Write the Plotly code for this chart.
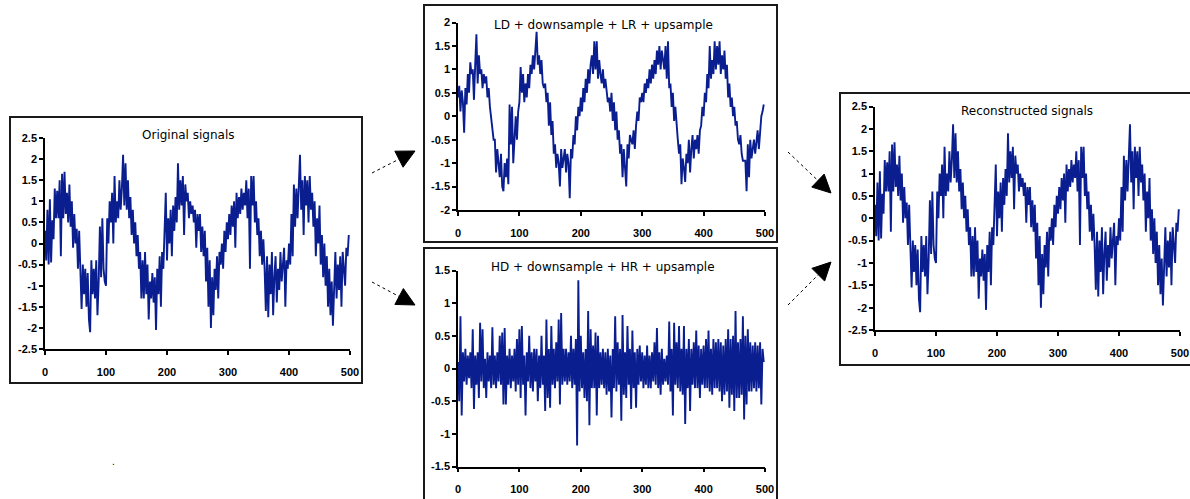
import plotly.graph_objects as go

W, H = 1190, 499

# ---------------- data ----------------
sample_x = list(range(0, 500, 2))

original_vals = [
    0.3, -0.4, 0.8, -0.5, 1.05, -0.45, 0.55, 0.1, 1.3, 0.6,
    1.25, 0.6, 1.5, -0.3, 1.65, 0.6, 1.7, 0.7, 1.2, 0.5,
    1.4, 0.4, 1.0, -0.1, 0.7, 0.0, 0.35, -0.6, 0.3, -0.95,
    -1.55, -0.5, -1.2, -0.6, -1.5, -0.7, -1.8, -2.1, -0.4, -1.2,
    -0.6, -1.3, -0.4, -1.7, -0.9, 0.4, -0.8, 0.6, -0.6, -0.9,
    -1.0, 0.6, 0.0, 1.0, 0.5, 1.2, 0.0, 1.6, 0.5, 1.0,
    0.6, 1.5, 0.8, 1.3, 2.1, 0.9, 1.9, 0.8, 1.5, 0.6,
    1.1, 0.2, 0.8, 0.0, 0.5, -0.3, 0.2, -0.6, -0.2, -1.3,
    -0.4, -1.3, -0.2, -1.2, -0.5, -1.8, -0.9, -1.3, -0.7, -1.4,
    -0.8, -2.05, -0.6, -1.2, -0.3, -1.5, -0.2, -0.6, 0.2, 1.2,
    -0.4, 0.6, 0.0, 0.8, -0.3, 0.9, 0.3, 1.1, 0.5, 1.9,
    0.8, 1.5, 0.9, 1.6, 0.2, 1.4, 1.0, 1.2, 0.6, 1.0,
    0.7, 0.9, 0.5, 0.8, -0.1, 0.7, 0.3, 0.7, -0.2, 0.4,
    -0.3, 0.3, -0.9, -0.1, -1.5, -0.4, -2.0, -0.8, -1.7, -0.6,
    -1.1, -0.3, -1.3, -0.2, -0.5, 0.0, -0.6, 0.3, -0.2, 0.5,
    0.1, 0.7, 0.2, 0.9, 0.4, 1.0, -0.1, 1.2, 0.6, 1.1,
    0.7, 1.3, 0.8, 1.2, 0.9, 1.5, 0.6, 1.3, -0.6, 1.6,
    0.9, 1.6, 0.5, 1.0, 0.2, 0.6, -0.3, 0.3, -0.5, 0.1,
    -0.6, -1.6, -0.3, -1.75, -0.5, -1.2, -0.2, -1.7, -0.8, -0.3,
    -1.4, -0.6, -1.1, -0.2, -0.9, -0.5, -0.1, -1.5, -0.4, -0.6,
    0.0, -0.5, 0.7, -0.3, 1.4, 0.4, 1.3, 0.6, 1.5, 2.1,
    0.8, 1.5, 0.2, 1.6, 0.9, 1.5, 0.5, 1.6, 0.8, 1.2,
    0.4, 1.0, -0.3, 0.6, 0.0, 0.9, -0.5, 0.2, -0.8, 0.0,
    -1.0, -0.3, -1.5, -0.6, -1.7, -0.9, -1.95, -1.0, -0.2, -1.3,
    -0.5, -1.1, -0.3, -1.5, -0.2, -0.6, -1.0, -0.1, -0.3, 0.2,
]

ld_vals = [
    0.4, 0.65, 0.1, 0.55, 0.3, -0.35, 0.6, 0.25, 0.9, 0.5,
    1.15, 0.9, 1.0, 0.35, 1.1, 1.75, 0.7, 1.3, 0.9, 1.0,
    0.6, 0.9, 0.7, 0.85, 0.4, 0.6, 0.2, 0.0, -0.2, -0.5,
    -0.5, -1.2, -0.7, -1.0, -1.3, -0.8, -1.5, -1.6, -1.0, -1.3,
    -0.9, -1.45, 0.25, -0.6, 0.2, -1.0, -0.3, 0.0, -0.5, 0.1,
    0.3, 1.05, 0.5, 0.9, 0.3, 0.7, 0.4, 0.9, 0.6, 1.1,
    0.9, 1.3, 1.0, 1.4, 1.8, 1.1, 1.3, 0.9, 1.2, 0.7,
    0.6, 0.7, 0.3, 0.5, -0.2, 0.3, -0.4, -0.1, -0.8, -0.6,
    -1.1, -0.8, -1.0, -1.5, -0.7, -1.1, -0.9, -0.7, -1.2, -0.8,
    -1.0, -1.75, -0.7, -0.9, -0.4, -0.6, 0.0, -0.3, 0.2, 0.0,
    0.4, 0.1, 0.6, 0.3, 0.8, 0.5, 1.0, 0.7, 1.1, 1.3,
    0.9, 1.6, 1.0, 1.6, 0.8, 1.2, 0.9, 0.7, 1.0, 0.6,
    0.8, 0.5, 0.3, 0.4, 0.1, 0.5, -0.1, 0.3, -0.3, 0.1,
    -0.5, -0.3, -0.8, -0.6, -1.3, -0.7, -1.1, -1.5, -0.6, -0.9,
    -0.4, -0.5, -0.6, -0.3, -0.7, -0.2, 0.1, -0.1, 0.4, 0.3,
    0.5, 0.3, 0.7, 0.5, 0.8, 0.6, 1.0, 0.7, 1.1, 0.8,
    1.2, 0.9, 1.4, 1.1, 1.5, 1.0, 1.4, 1.2, 1.0, 1.5,
    0.8, 1.6, 0.6, 0.7, 0.2, 0.5, -0.1, 0.2, -0.3, -0.5,
    -0.8, -0.6, -1.45, -0.9, -1.1, -1.4, -0.8, -1.0, -0.5, -1.2,
    -0.7, -0.4, -0.9, -0.5, -0.7, -0.4, -0.8, -0.3, -0.2, 0.2,
    0.0, 0.5, 0.3, 0.9, 0.6, 1.5, 0.8, 1.2, 0.9, 1.6,
    1.0, 1.5, 1.1, 1.6, 0.9, 1.3, 1.0, 1.4, 0.8, 1.1,
    0.4, 0.7, 0.2, 0.4, 0.0, 0.2, -0.2, -0.1, -0.5, -0.6,
    -0.4, -0.8, -0.95, -0.95, -0.95, -1.6, -0.6, -1.3, -0.5, -0.9,
    -0.7, -0.5, -0.8, -0.6, -0.3, -0.7, -0.3, 0.0, 0.1, 0.25,
]

hd_vals = [
    0.1, -0.5, 0.8, -0.72, 0.25, -0.2, 0.3, -0.25, 0.2, -0.15,
    0.25, -0.3, 0.6, -0.62, 0.2, -0.25, 0.25, -0.45, 0.7, -0.2,
    0.6, -0.3, 0.15, -0.45, 0.25, -0.2, 0.2, -0.3, 0.63, -0.25,
    0.2, -0.3, 0.25, -0.2, 0.5, -0.25, 0.55, -0.55, 0.62, -0.55,
    0.2, -0.25, 0.3, -0.3, 0.2, -0.2, 0.3, -0.35, 0.45, -0.25,
    0.6, -0.45, 0.65, -0.25, 0.2, -0.72, 0.25, -0.2, 0.5, -0.3,
    0.25, -0.35, 0.3, -0.2, 0.3, -0.5, 0.2, -0.3, 0.5, -0.25,
    0.2, -0.65, 0.75, -0.45, 0.3, -0.6, 0.65, -0.25, 0.3, -0.3,
    0.4, -0.2, 0.75, -0.55, 0.85, -0.25, 0.3, -0.2, 0.3, -0.25,
    0.25, -0.2, 0.5, -0.3, 0.3, -0.25, 0.45, -1.18, 1.35, -0.35,
    0.5, -0.3, 0.25, -0.45, 0.3, -0.5, 0.88, -0.87, 0.6, -0.3,
    0.35, -0.3, 0.55, -0.72, 0.5, -0.3, 0.25, -0.25, 0.3, -0.3,
    0.25, -0.4, 0.3, -0.35, 0.2, -0.75, 0.3, -0.3, 0.8, -0.35,
    0.4, -0.25, 0.3, -0.8, 0.82, -0.4, 0.25, -0.45, 0.65, -0.25,
    0.3, -0.62, 0.58, -0.3, 0.25, -0.6, 0.3, -0.25, 0.35, -0.2,
    0.25, -0.3, 0.2, -0.25, 0.35, -0.3, 0.2, -0.3, 0.25, -0.2,
    0.4, -0.25, 0.62, -0.3, 0.25, -0.4, 0.3, -0.25, 0.15, -0.2,
    0.2, -0.25, 0.72, -0.35, 0.3, -0.72, 0.7, -0.25, 0.4, -0.3,
    0.65, -0.35, 0.3, -0.4, 0.65, -0.85, 0.3, -0.3, 0.45, -0.65,
    0.3, -0.25, 0.4, -0.3, 0.58, -0.3, 0.35, -0.45, 0.3, -0.25,
    0.35, -0.3, 0.45, -0.3, 0.58, -0.35, 0.3, -0.4, 0.45, -0.3,
    0.4, -0.3, 0.45, -0.35, 0.4, -0.5, 0.35, -0.4, 0.45, -0.35,
    0.6, -0.6, 0.45, -0.4, 0.5, -0.65, 0.88, -0.45, 0.4, -0.45,
    0.45, -0.4, 0.8, -0.78, 0.5, -0.55, 0.6, -0.35, 0.4, -0.35,
    0.35, -0.3, 0.4, -0.35, 0.35, -0.3, 0.4, -0.55, 0.3, 0.1,
]

# perfect reconstruction: same values as the original signal
reconstructed_vals = list(original_vals)

panel_titles = ["Original signals", "LD + downsample + LR + upsample",
                "HD + downsample + HR + upsample", "Reconstructed signals"]

x_tickvals = [0, 100, 200, 300, 400, 500]
x_ticktext = ["0", "100", "200", "300", "400", "500"]
y_tickvals_25 = [2.5, 2, 1.5, 1, 0.5, 0, -0.5, -1, -1.5, -2, -2.5]
y_ticktext_25 = ["2.5", "2", "1.5", "1", "0.5", "0", "-0.5", "-1", "-1.5", "-2", "-2.5"]
y_tickvals_2 = [2, 1.5, 1, 0.5, 0, -0.5, -1, -1.5, -2]
y_ticktext_2 = ["2", "1.5", "1", "0.5", "0", "-0.5", "-1", "-1.5", "-2"]
y_tickvals_15 = [1.5, 1, 0.5, 0, -0.5, -1, -1.5]
y_ticktext_15 = ["1.5", "1", "0.5", "0", "-0.5", "-1", "-1.5"]

# ---------------- layout helpers ----------------
def fx(p):
    return p / W

def fy(p):
    return 1 - p / H

LINE_COLOR = "#0A1E90"
FONT = "Liberation Sans, Arial, sans-serif"
TITLE_FONT = "DejaVu Sans, Verdana, sans-serif"

panels = [
    dict(vals=original_vals, area=(45, 350, 138, 349), yr=(-2.5, 2.5),
         tv=y_tickvals_25, tt=y_ticktext_25, box=(10, 117, 362, 383),
         title=(188, 135)),
    dict(vals=ld_vals, area=(458, 765, 22.5, 210), yr=(-2, 2),
         tv=y_tickvals_2, tt=y_ticktext_2, box=(424, 5, 777, 242),
         title=(603, 25)),
    dict(vals=hd_vals, area=(458, 765, 270.5, 466.5), yr=(-1.5, 1.5),
         tv=y_tickvals_15, tt=y_ticktext_15, box=(424, 248, 777, 510),
         title=(603, 267)),
    dict(vals=reconstructed_vals, area=(875, 1180, 106.5, 330), yr=(-2.5, 2.5),
         tv=y_tickvals_25, tt=y_ticktext_25, box=(840, 93, 1200, 365),
         title=(1027, 111)),
]

fig = go.Figure()
shapes = []
annotations = []
layout_axes = {}

for i, p in enumerate(panels, start=1):
    xa = "x" if i == 1 else f"x{i}"
    ya = "y" if i == 1 else f"y{i}"
    fig.add_trace(go.Scatter(
        x=sample_x, y=p["vals"], mode="lines",
        line=dict(color=LINE_COLOR, width=1.9),
        xaxis=xa, yaxis=ya, showlegend=False, hoverinfo="skip",
    ))
    x0, x1, yt, yb = p["area"]
    xname = "xaxis" if i == 1 else f"xaxis{i}"
    yname = "yaxis" if i == 1 else f"yaxis{i}"
    layout_axes[xname] = dict(
        domain=[fx(x0), fx(x1)], range=[0, 500], anchor=ya, automargin=False,
        tickmode="array", tickvals=x_tickvals, ticktext=x_ticktext,
        showline=True, linecolor="black", linewidth=1.5,
        ticks="outside", ticklen=4, tickcolor="black", tickwidth=1.5,
        showgrid=False, zeroline=False, ticklabelstandoff=8,
        tickfont=dict(family=FONT, size=11, color="black", weight="bold"),
    )
    layout_axes[yname] = dict(
        domain=[fy(yb), fy(yt)], range=list(p["yr"]), anchor=xa, automargin=False,
        tickmode="array", tickvals=p["tv"], ticktext=p["tt"],
        showline=True, linecolor="black", linewidth=1.5,
        ticks="outside", ticklen=4, tickcolor="black", tickwidth=1.5,
        showgrid=False, zeroline=False,
        tickfont=dict(family=FONT, size=11, color="black", weight="bold"),
    )
    bx0, by0, bx1, by1 = p["box"]
    shapes.append(dict(type="rect", xref="paper", yref="paper",
                       x0=fx(bx0), x1=fx(bx1), y0=fy(by1), y1=fy(by0),
                       line=dict(color="#1a1a1a", width=2), fillcolor="rgba(0,0,0,0)"))
    tx, ty = p["title"]
    annotations.append(dict(text=panel_titles[i - 1], xref="paper", yref="paper",
                            x=fx(tx), y=fy(ty), xanchor="center", yanchor="middle",
                            showarrow=False,
                            font=dict(family=TITLE_FONT, size=12, color="black")))

# stray dot visible in the original figure
annotations.append(dict(text=".", xref="paper", yref="paper", x=fx(113), y=fy(461),
                        xanchor="center", yanchor="middle", showarrow=False,
                        font=dict(family=FONT, size=10, color="black")))

# arrows: dotted shaft + filled triangular head
def arrow(sx, sy, tx, ty, head_len=18, head_half=9):
    dx, dy = tx - sx, ty - sy
    L = (dx * dx + dy * dy) ** 0.5
    ux, uy = dx / L, dy / L
    nx, ny = -uy, ux
    bx, by = tx - ux * head_len, ty - uy * head_len
    shapes.append(dict(type="line", xref="paper", yref="paper",
                       x0=fx(sx), y0=fy(sy), x1=fx(bx), y1=fy(by),
                       line=dict(color="black", width=1, dash="dot")))
    c1 = (bx + nx * head_half, by + ny * head_half)
    c2 = (bx - nx * head_half, by - ny * head_half)
    path = (f"M {fx(tx)} {fy(ty)} L {fx(c1[0])} {fy(c1[1])} "
            f"L {fx(c2[0])} {fy(c2[1])} Z")
    shapes.append(dict(type="path", xref="paper", yref="paper", path=path,
                       fillcolor="black", line=dict(color="black", width=1)))

arrow(372, 173, 415, 151)
arrow(372, 282, 415, 305)
arrow(788, 152, 831, 193)
arrow(788, 305, 831, 262)

fig.update_layout(
    width=W, height=H, margin=dict(l=0, r=0, t=0, b=0, autoexpand=False),
    paper_bgcolor="white", plot_bgcolor="white",
    shapes=shapes, annotations=annotations, showlegend=False,
    **layout_axes,
)

fig.write_html(
    "out.html",
    config={"displayModeBar": False},
    post_script="document.body.style.margin='0';document.body.style.padding='0';",
)
